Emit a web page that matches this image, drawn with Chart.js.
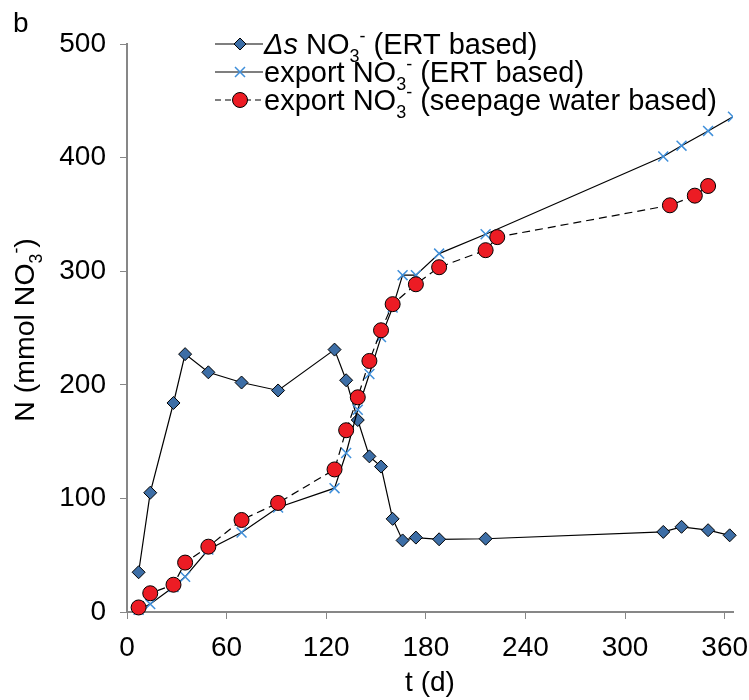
<!DOCTYPE html>
<html><head><meta charset="utf-8">
<script src="https://cdn.jsdelivr.net/npm/chart.js@4.4.1/dist/chart.umd.min.js"></script>
<style>html,body{margin:0;padding:0;background:#fff;}#wrap{width:749px;height:700px;position:relative;}</style>
</head><body><div id="wrap"><canvas id="c" width="749" height="700"></canvas></div>
<script>
// ---- data ----
const dsDays   = [7,14,28,35,49,69,91,125,132,139,146,153,160,166,174,188,216,323,334,350,363];
const dsValues = [35,105,184,227,211,202,195,231,204,169,137,128,82,63,65.5,64,64.5,70.5,75,72,67.5];
const ertDays   = [7,14,28,35,49,69,91,125,132,139,146,153,160,166,174,188,216,323,334,350,365];
const ertValues = [2,7,22,31,55,70,92,109,140,178,209.5,242,268,296.5,296.5,315.5,332.5,401,410.5,423.5,436];
const seepDays   = [7,14,28,35,49,69,91,125,132,139,146,153,160,174,188,216,223,327,342,350];
const seepValues = [4,16.5,24,43.5,57.5,81,96,125.5,160,189,221,248,271,288.5,303.5,318.5,330,358,366.5,375];
const xTickValues = [0,60,120,180,240,300,360];
const yTickValues = [0,100,200,300,400,500];
const panelLabel = 'b';
const xTitle = 't (d)';
const FONT = "'Liberation Sans', Arial, sans-serif";

function pts(xs, ys){ return xs.map((x,i)=>({x:x, y:ys[i]})); }

// rich text: parts [{t, it, sub, sup}]
function richWidth(ctx, parts, size){
  let w = 0;
  parts.forEach(p=>{
    const s = (p.sub||p.sup) ? size*0.62 : size;
    ctx.font = (p.it?'italic ':'') + s + 'px ' + FONT;
    w += ctx.measureText(p.t).width;
  });
  return w;
}
function drawRich(ctx, parts, x, y, size){
  parts.forEach(p=>{
    const s = (p.sub||p.sup) ? size*0.62 : size;
    ctx.font = (p.it?'italic ':'') + s + 'px ' + FONT;
    let yy = y;
    if (p.sub) yy = y + size*0.28;
    if (p.sup) yy = y - size*0.42;
    ctx.fillText(p.t, x, yy);
    x += ctx.measureText(p.t).width;
  });
  return x;
}

const legendItems = [
  {parts:[{t:'\u0394s',it:true},{t:' NO'},{t:'3',sub:true},{t:'-',sup:true},{t:' (ERT based)'}], marker:'diamond', dash:[]},
  {parts:[{t:'export NO'},{t:'3',sub:true},{t:'-',sup:true},{t:' (ERT based)'}], marker:'cross', dash:[]},
  {parts:[{t:'export NO'},{t:'3',sub:true},{t:'-',sup:true},{t:' (seepage water based)'}], marker:'circle', dash:[6,4]}
];
const yTitleParts = [{t:'N (mmol NO'},{t:'3',sub:true},{t:'-',sup:true},{t:')'}];

const DIAMOND = '#3d6ea6', CROSS = '#3f8fda', CIRCLE = '#ec1c24';

const decor = {
  id:'decor',
  afterDraw(chart){
    const ctx = chart.ctx;
    ctx.save();
    ctx.fillStyle = '#000';
    ctx.textBaseline = 'alphabetic';
    ctx.textAlign = 'left';
    // panel label
    ctx.font = '28px ' + FONT;
    ctx.fillText(panelLabel, 13, 32);
    // y title
    const size = 28.5;
    const w = richWidth(ctx, yTitleParts, size);
    ctx.save();
    ctx.translate(34, 330);
    ctx.rotate(-Math.PI/2);
    drawRich(ctx, yTitleParts, -w/2, 0, size);
    ctx.restore();
    // legend
    const rows = [44, 72, 100];
    legendItems.forEach((it, i)=>{
      const cy = rows[i];
      ctx.save();
      ctx.strokeStyle = '#000';
      ctx.lineWidth = 1.2;
      ctx.setLineDash(it.dash);
      ctx.beginPath(); ctx.moveTo(215, cy); ctx.lineTo(263, cy); ctx.stroke();
      ctx.setLineDash([]);
      if (it.marker==='diamond'){
        ctx.fillStyle = DIAMOND; ctx.strokeStyle='#000'; ctx.lineWidth=1;
        ctx.beginPath(); ctx.moveTo(240,cy-6); ctx.lineTo(246,cy); ctx.lineTo(240,cy+6); ctx.lineTo(234,cy); ctx.closePath(); ctx.fill(); ctx.stroke();
      } else if (it.marker==='cross'){
        ctx.strokeStyle = CROSS; ctx.lineWidth = 1.5;
        ctx.beginPath(); ctx.moveTo(235,cy-5); ctx.lineTo(245,cy+5); ctx.moveTo(245,cy-5); ctx.lineTo(235,cy+5); ctx.stroke();
      } else {
        ctx.fillStyle = CIRCLE; ctx.strokeStyle='#000'; ctx.lineWidth=1;
        ctx.beginPath(); ctx.arc(240, cy, 7.5, 0, Math.PI*2); ctx.fill(); ctx.stroke();
      }
      ctx.restore();
      ctx.fillStyle = '#000';
      drawRich(ctx, it.parts, 264, cy + 10, 29);
    });
    ctx.restore();
  }
};

const axisGray = '#878787';
new Chart(document.getElementById('c'), {
  type:'scatter',
  data:{
    datasets:[
      {label:'export NO3- (seepage water based)', data:pts(seepDays, seepValues), showLine:true,
       borderColor:'#000', borderWidth:1.2, borderDash:[8,5],
       pointStyle:'circle', pointRadius:7.5, pointBackgroundColor:CIRCLE, pointBorderColor:'#000', pointBorderWidth:1,
       order:0, clip:false},
      {label:'export NO3- (ERT based)', data:pts(ertDays, ertValues), showLine:true,
       borderColor:'#000', borderWidth:1.2,
       pointStyle:'crossRot', pointRadius:7, pointBackgroundColor:CROSS, pointBorderColor:CROSS, pointBorderWidth:1.5,
       order:1, clip:{left:false, top:false, right:0, bottom:false}},
      {label:'\u0394s NO3- (ERT based)', data:pts(dsDays, dsValues), showLine:true,
       borderColor:'#000', borderWidth:1.2,
       pointStyle:'rectRot', pointRadius:6.5, pointBackgroundColor:DIAMOND, pointBorderColor:'#000', pointBorderWidth:1,
       order:2, clip:false}
    ]
  },
  options:{
    responsive:false, animation:false, devicePixelRatio:1,
    layout:{padding:{top:44, right:16, left:0, bottom:0}},
    plugins:{legend:{display:false}, tooltip:{enabled:false}},
    scales:{
      x:{type:'linear', min:0, max:365,
         afterBuildTicks(s){ s.ticks = xTickValues.map(v=>({value:v})); },
         afterFit(s){ s.height = 88; s.paddingLeft = 0; s.paddingRight = 0; },
         ticks:{font:{family:FONT, size:28}, color:'#000', padding:12, maxRotation:0},
         grid:{drawOnChartArea:false, drawTicks:true, tickLength:7, color:axisGray, lineWidth:1},
         border:{display:true, color:axisGray, width:2},
         title:{display:true, text:xTitle, font:{family:FONT, size:28}, color:'#000', padding:{top:0,bottom:0}}
      },
      y:{type:'linear', min:0, max:500,
         afterBuildTicks(s){ s.ticks = yTickValues.map(v=>({value:v})); },
         afterFit(s){ s.width = 127; s.paddingTop = 0; s.paddingBottom = 0; },
         ticks:{font:{family:FONT, size:28}, color:'#000', padding:14},
         grid:{drawOnChartArea:false, drawTicks:true, tickLength:7, color:axisGray, lineWidth:1},
         border:{display:true, color:axisGray, width:2}
      }
    }
  },
  plugins:[decor]
});
</script></body></html>
